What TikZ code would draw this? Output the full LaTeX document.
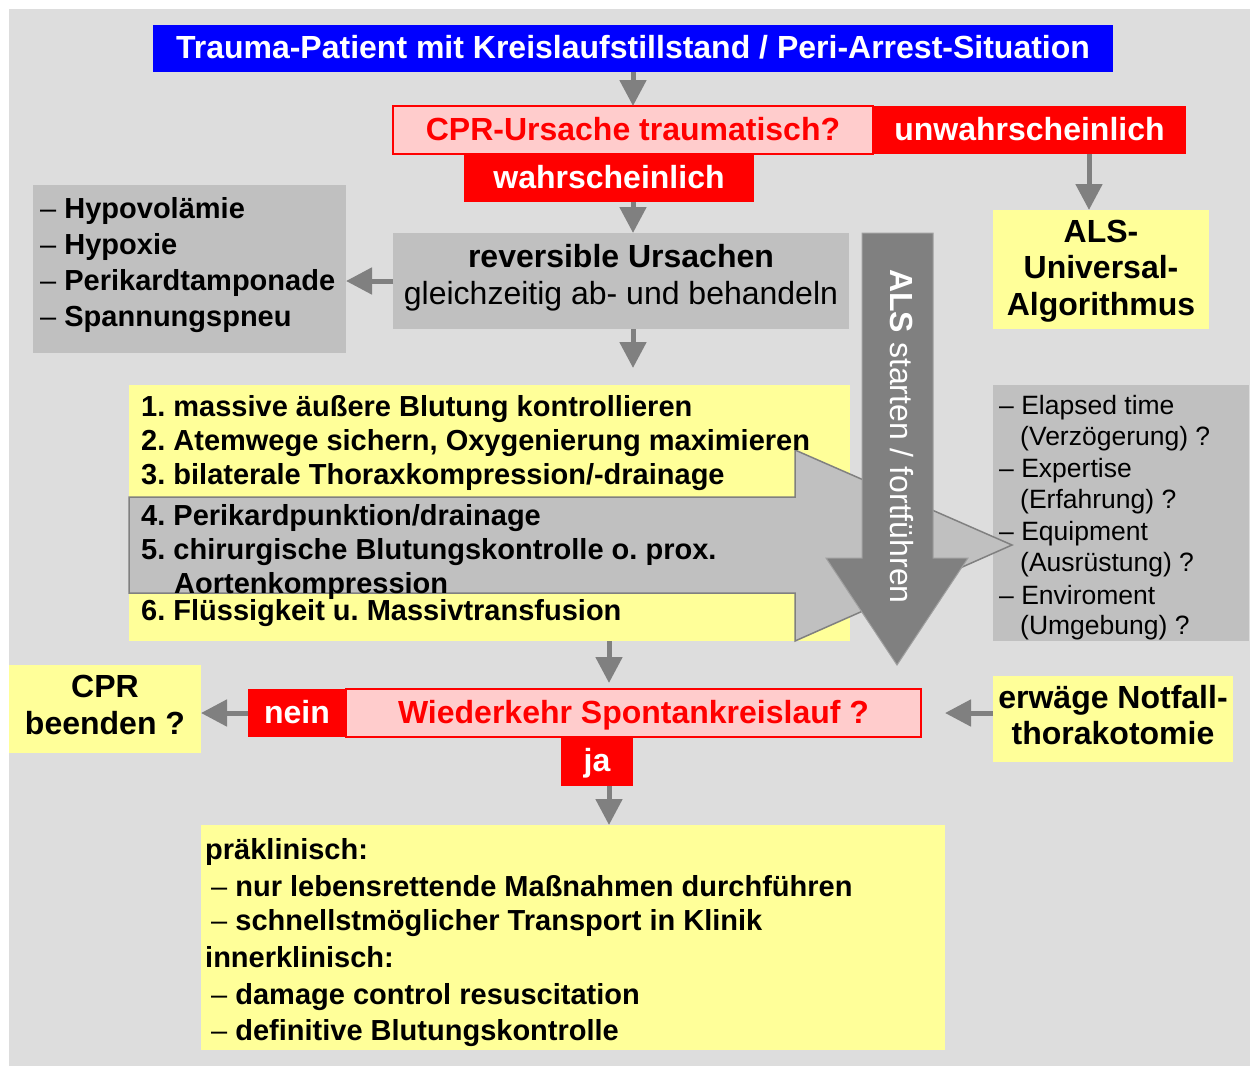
\documentclass[tikz,border=0pt]{standalone}
\usepackage{fontspec}
\setmainfont{Liberation Sans}
\usetikzlibrary{arrows.meta}
\definecolor{bgc}{HTML}{DDDDDD}
\definecolor{pinkc}{HTML}{FFCCCC}
\definecolor{yel}{HTML}{FFFF99}
\definecolor{greyl}{HTML}{C0C0C0}
\definecolor{arrg}{HTML}{808080}
\definecolor{alsb}{HTML}{A0A0A0}
\definecolor{blu}{HTML}{0000FF}
\definecolor{rd}{HTML}{FF0000}
\frenchspacing
\begin{document}
\begin{tikzpicture}[x=1pt,y=-1pt,
  box/.style={rectangle, inner sep=0pt, outer sep=0pt, align=center},
  fbig/.style={font=\fontsize{32}{36.5}\selectfont\bfseries\frenchspacing},
  fbigr/.style={font=\fontsize{32}{36.5}\selectfont\frenchspacing},
  flist/.style={font=\fontsize{29}{34}\selectfont\bfseries\frenchspacing, anchor=base west, inner sep=0pt},
  fsmall/.style={font=\fontsize{26.5}{31}\selectfont\frenchspacing, anchor=base west, inner sep=0pt},
  one/.style={text height=20.5pt, text depth=0pt},
  arr/.style={draw=arrg, line width=5pt, -{Triangle[width=26pt,length=26pt]}},
  redbox/.style={box, fbig, one, fill=rd, text=white},
  pinkbox/.style={box, fbig, one, fill=pinkc, draw=rd, line width=2pt, text=rd},
  yelbox/.style={box, fill=yel},
  greybox/.style={box, fill=greyl}
]
\useasboundingbox (0,0) rectangle (1250,1066);
\fill[bgc] (9,9) rectangle (1250,1066);

% top
\node[box, fbig, one, fill=blu, text=white, minimum width=960pt, minimum height=47pt] (title) at (633,48.5)
  {Trauma-Patient mit Kreislaufstillstand / Peri-Arrest-Situation};
\node[pinkbox, minimum width=480pt, minimum height=48pt] (cpr) at (633,130) {CPR-Ursache traumatisch?};
\node[redbox, minimum width=313pt, minimum height=48pt] (unw) at (1029.5,130) {unwahrscheinlich};
\node[redbox, minimum width=290pt, minimum height=48pt] (wahr) at (609,178) {wahrscheinlich};

\node[yelbox, minimum width=216pt, minimum height=119pt] (als) at (1101,269.5) {};
\node[fbig, align=center, inner sep=0pt] (alst) at (1101,271) {ALS-\\Universal-\\Algorithmus};

\node[greybox, minimum width=313pt, minimum height=168pt] (hyp) at (189.5,269) {};
\node[greybox, minimum width=456pt, minimum height=96pt] (rev) at (621,281) {};
\node[fbigr, align=center, inner sep=0pt] (revt) at (621,277.5)
  {\textbf{reversible Ursachen}\\gleichzeitig ab- und behandeln};

\node[yelbox, minimum width=721pt, minimum height=256pt] (list) at (489.5,513) {};
\node[greybox, minimum width=256pt, minimum height=256pt] (risk) at (1121,513) {};

% big grey arrow
\filldraw[fill=greyl, draw=arrg, line width=1.5pt]
  (129,497) -- (795,497) -- (795,450) -- (1012,545) -- (795,641) -- (795,593) -- (129,593) -- cycle;

% ALS arrow
\filldraw[fill=arrg, draw=alsb, line width=1pt]
  (862,233) -- (933,233) -- (933,558) -- (968,558) -- (897,665) -- (826,558) -- (862,558) -- cycle;
\node[rotate=-90, text=white, fbigr, one, inner sep=0pt] (alsarr) at (901,436.5) {\textbf{ALS} starten / fortführen};

% left grey list
\foreach \t [count=\i] in {Hypovolämie,Hypoxie,Perikardtamponade,Spannungspneu}
  \node[flist] (hyp\i) at (40,182+36*\i) {{\mdseries –} \t};

% numbered list
\node[flist] (l1) at (141,416) {1. massive äußere Blutung kontrollieren};
\node[flist] (l2) at (141,450) {2. Atemwege sichern, Oxygenierung maximieren};
\node[flist] (l3) at (141,484) {3. bilaterale Thoraxkompression/-drainage};
\node[flist] (l4) at (141,525) {4. Perikardpunktion/drainage};
\node[flist] (l5) at (141,559) {5. chirurgische Blutungskontrolle o. prox.};
\node[flist] (l5b) at (174,593) {Aortenkompression};
\node[flist] (l6) at (141,620) {6. Flüssigkeit u. Massivtransfusion};

% right grey list
\node[fsmall] (r1) at (999,414) {– Elapsed time};
\node[fsmall] (r2) at (1020,445) {(Verzögerung) ?};
\node[fsmall] (r3) at (999,477) {– Expertise};
\node[fsmall] (r4) at (1020,508) {(Erfahrung) ?};
\node[fsmall] (r5) at (999,540) {– Equipment};
\node[fsmall] (r6) at (1020,571) {(Ausrüstung) ?};
\node[fsmall] (r7) at (999,604) {– Enviroment};
\node[fsmall] (r8) at (1020,634) {(Umgebung) ?};

% ROSC row
\node[yelbox, minimum width=192pt, minimum height=88pt] (stop) at (105,709) {};
\node[fbig, align=center, inner sep=0pt] (stopt) at (105,705) {CPR\\beenden ?};
\node[pinkbox, minimum width=575pt, minimum height=48pt] (wk) at (633.5,713) {Wiederkehr Spontankreislauf ?};
\node[redbox, minimum width=98pt, minimum height=48pt] (nein) at (297,713) {nein};
\node[redbox, minimum width=72pt, minimum height=49pt] (ja) at (597,761.5) {ja};
\node[yelbox, minimum width=240pt, minimum height=86pt] (erw) at (1113,719) {};
\node[fbig, align=center, inner sep=0pt] (erwt) at (1113,715) {erwäge Notfall-\\thorakotomie};

% bottom box
\node[yelbox, minimum width=744pt, minimum height=225pt] (bot) at (573,937.5) {};
\node[flist] (b1) at (205,859) {präklinisch:};
\node[flist] (b2) at (211,896) {{\mdseries –} nur lebensrettende Maßnahmen durchführen};
\node[flist] (b3) at (211,930) {{\mdseries –} schnellstmöglicher Transport in Klinik};
\node[flist] (b4) at (205,967) {innerklinisch:};
\node[flist] (b5) at (211,1004) {{\mdseries –} damage control resuscitation};
\node[flist] (b6) at (211,1040) {{\mdseries –} definitive Blutungskontrolle};

% connectors
\path (als.north) ++(-12,0) coordinate (alsin);
\draw[arr] (title.south) -- (cpr.north);
\draw[arr] (alsin |- unw.south) -- (alsin);
\draw[arr] (wahr.south -| title.south) -- (rev.north -| title.south);
\draw[arr] (rev.west) -- (rev.west -| hyp.east);
\draw[arr, shorten >=17pt] (rev.south -| title.south) -- (list.north -| title.south);
\draw[arr, shorten >=6pt] (list.south -| wahr.south) -- (wk.north -| wahr.south);
\draw[arr] (nein.west) -- (nein.west -| stop.east);
\draw[arr, shorten >=24pt] (erw.west |- wk.east) -- (wk.east);
\draw[arr] (ja.south -| wahr.south) -- (bot.north -| wahr.south);
\end{tikzpicture}
\end{document}
